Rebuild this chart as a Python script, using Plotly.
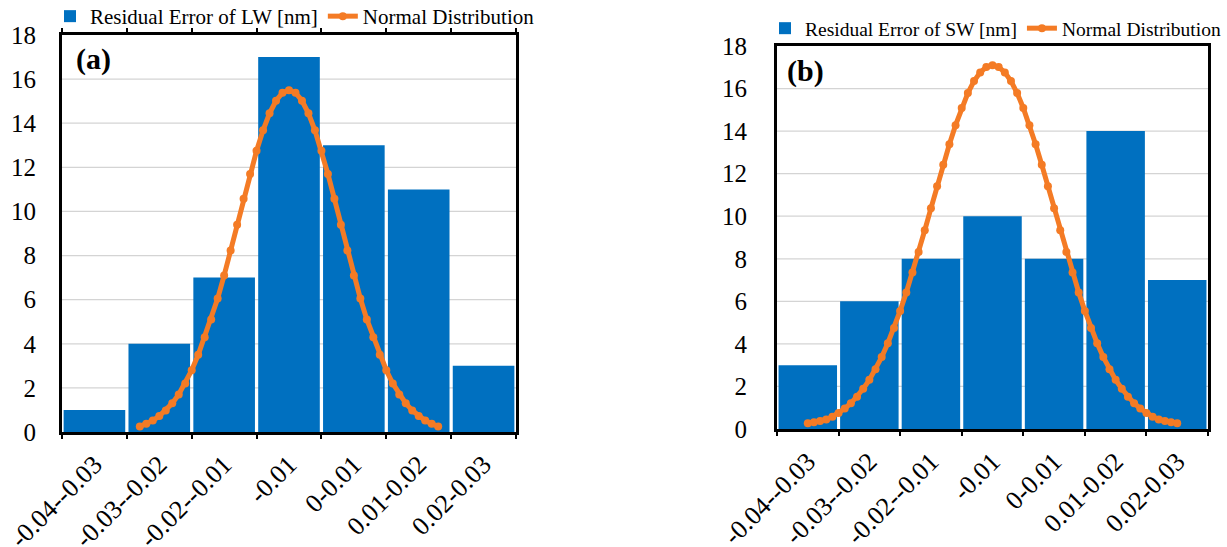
import plotly.graph_objects as go

# ---------------- data ----------------
categories = ["-0.04--0.03", "-0.03--0.02", "-0.02--0.01", "-0.01",
              "0-0.01", "0.01-0.02", "0.02-0.03"]
cat_pos = [0, 1, 2, 3, 4, 5, 6]

lw_counts = [1, 4, 7, 17, 13, 11, 3]
sw_counts = [3, 6, 8, 10, 8, 14, 7]

# normal-distribution curves (x in category units)
lw_norm_x = [0.7, 0.8, 0.9, 1.0, 1.1, 1.2, 1.3, 1.4, 1.5, 1.6, 1.7, 1.8, 1.9,
             2.0, 2.1, 2.2, 2.3, 2.4, 2.5, 2.6, 2.7, 2.8, 2.9, 3.0, 3.1, 3.2,
             3.3, 3.4, 3.5, 3.6, 3.7, 3.8, 3.9, 4.0, 4.1, 4.2, 4.3, 4.4, 4.5,
             4.6, 4.7, 4.8, 4.9, 5.0, 5.1, 5.2, 5.3]
lw_norm_y = [0.25, 0.37, 0.52, 0.72, 0.98, 1.30, 1.70, 2.20, 2.80, 3.50, 4.30,
             5.10, 6.05, 7.10, 8.23, 9.40, 10.57, 11.70, 12.75, 13.68, 14.45,
             15.02, 15.38, 15.50, 15.38, 15.02, 14.45, 13.68, 12.75, 11.70,
             10.57, 9.40, 8.23, 7.10, 6.05, 5.10, 4.30, 3.50, 2.80, 2.20, 1.70,
             1.30, 0.98, 0.72, 0.52, 0.37, 0.25]

sw_norm_x = [0.0, 0.1, 0.2, 0.3, 0.4, 0.5, 0.6, 0.7, 0.8, 0.9, 1.0, 1.1, 1.2,
             1.3, 1.4, 1.5, 1.6, 1.7, 1.8, 1.9, 2.0, 2.1, 2.2, 2.3, 2.4, 2.5,
             2.6, 2.7, 2.8, 2.9, 3.0, 3.1, 3.2, 3.3, 3.4, 3.5, 3.6, 3.7, 3.8,
             3.9, 4.0, 4.1, 4.2, 4.3, 4.4, 4.5, 4.6, 4.7, 4.8, 4.9, 5.0, 5.1,
             5.2, 5.3, 5.4, 5.5, 5.6, 5.7, 5.8, 5.9, 6.0]
sw_norm_y = [0.27, 0.32, 0.38, 0.45, 0.58, 0.75, 0.96, 1.21, 1.52, 1.89, 2.31,
             2.81, 3.38, 4.03, 4.75, 5.55, 6.42, 7.35, 8.32, 9.34, 10.37, 11.41,
             12.42, 13.38, 14.28, 15.09, 15.79, 16.35, 16.76, 17.01, 17.10,
             17.01, 16.76, 16.35, 15.79, 15.09, 14.28, 13.38, 12.42, 11.41,
             10.37, 9.34, 8.32, 7.35, 6.42, 5.55, 4.75, 4.03, 3.38, 2.81, 2.31,
             1.89, 1.52, 1.21, 0.96, 0.75, 0.58, 0.45, 0.38, 0.32, 0.27]

y_ticks = [0, 2, 4, 6, 8, 10, 12, 14, 16, 18]

# ---------------- style ----------------
BLUE = "#0070C0"
ORANGE = "#F47B25"
GRID = "#D4D4D4"
FONT = "Liberation Serif"
W, H = 1227, 547

fig = go.Figure()

fig.add_trace(go.Bar(x=cat_pos, y=lw_counts, marker_color=BLUE, marker_line_width=0,
                     name="Residual Error of LW [nm]", xaxis="x", yaxis="y",
                     legend="legend"))
fig.add_trace(go.Scatter(x=lw_norm_x, y=lw_norm_y, mode="lines+markers",
                         line=dict(color=ORANGE, width=5),
                         marker=dict(color=ORANGE, size=8),
                         name="Normal Distribution", xaxis="x", yaxis="y",
                         legend="legend"))
fig.add_trace(go.Bar(x=cat_pos, y=sw_counts, marker_color=BLUE, marker_line_width=0,
                     name="Residual Error of SW [nm]", xaxis="x2", yaxis="y2",
                     legend="legend2"))
fig.add_trace(go.Scatter(x=sw_norm_x, y=sw_norm_y, mode="lines+markers",
                         line=dict(color=ORANGE, width=5),
                         marker=dict(color=ORANGE, size=8),
                         name="Normal Distribution", xaxis="x2", yaxis="y2",
                         legend="legend2"))


def xaxis_cfg(domain, anchor, mirror):
    return dict(domain=domain, anchor=anchor, range=[-0.5, 6.5], automargin=False,
                tickmode="array", tickvals=cat_pos, ticktext=categories,
                tickangle=-45, ticks="", showgrid=False, zeroline=False,
                showline=True, linecolor="black", linewidth=3, mirror=mirror,
                ticklabelstandoff=4,
                tickfont=dict(family=FONT, size=26, color="black"),
                minor=dict(ticks="outside", tick0=0.5, dtick=1, ticklen=4,
                           tickwidth=2, tickcolor="black", showgrid=False))


def yaxis_cfg(domain, anchor, standoff):
    return dict(domain=domain, anchor=anchor, range=[0, 18], automargin=False,
                tickmode="array",
                tickvals=y_ticks, ticks="", showgrid=False, zeroline=False,
                showline=True, linecolor="black",
                linewidth=3, mirror=True, ticklabelstandoff=standoff,
                tickfont=dict(family=FONT, size=25, color="black"))


# horizontal gridlines at the y tick values (drawn beneath the bars)
grid_shapes = []
for xr, yr in (("x domain", "y"), ("x2 domain", "y2")):
    for t in y_ticks[1:-1]:
        grid_shapes.append(dict(type="line", xref=xr, yref=yr, x0=0, x1=1,
                                y0=t, y1=t, layer="below",
                                line=dict(color=GRID, width=1.2)))

fig.update_layout(
    width=W, height=H, autosize=False,
    margin=dict(l=0, r=0, t=0, b=0, autoexpand=False),
    paper_bgcolor="white", plot_bgcolor="white",
    bargap=0.05,
    font=dict(family=FONT, color="black"),
    xaxis=xaxis_cfg([62 / W, 516 / W], "y", "allticks"),
    yaxis=yaxis_cfg([(H - 432) / H, (H - 35) / H], "x", 18),
    xaxis2=xaxis_cfg([777 / W, 1208 / W], "y2", True),
    yaxis2=yaxis_cfg([(H - 429) / H, (H - 46) / H], "x2", 22),
    shapes=grid_shapes,
    legend=dict(orientation="h", x=50 / W, y=1 + 4 / H, xanchor="left",
                yanchor="top", font=dict(family=FONT, size=21, color="black"),
                bgcolor="rgba(0,0,0,0)", itemwidth=30, tracegroupgap=0),
    legend2=dict(orientation="h", x=765 / W, y=1 - 9 / H, xanchor="left",
                 yanchor="top", font=dict(family=FONT, size=19.5, color="black"),
                 bgcolor="rgba(0,0,0,0)", itemwidth=30, tracegroupgap=0),
    annotations=[
        dict(text="<b>(a)</b>", x=74 / W, y=1 - 40 / H, xref="paper", yref="paper",
             xanchor="left", yanchor="top", showarrow=False,
             font=dict(family=FONT, size=30, color="black")),
        dict(text="<b>(b)</b>", x=785 / W, y=1 - 52 / H, xref="paper", yref="paper",
             xanchor="left", yanchor="top", showarrow=False,
             font=dict(family=FONT, size=30, color="black")),
    ],
)

fig.write_html("out.html")
